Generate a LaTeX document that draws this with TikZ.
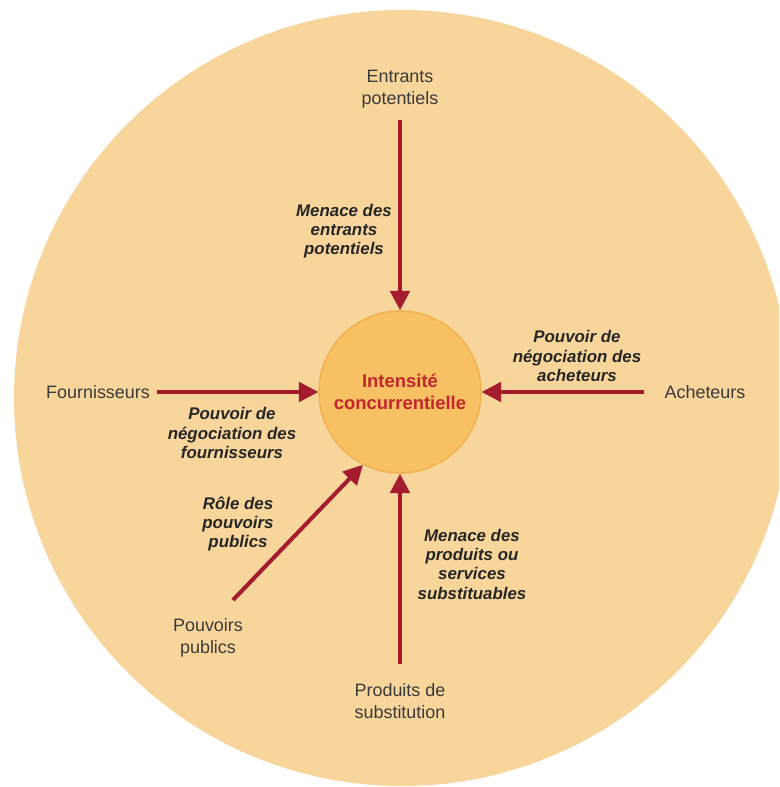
\documentclass[tikz,border=0pt]{standalone}
\usepackage{fontspec}
\setmainfont{Liberation Sans}
\usepackage{tikz}
\usetikzlibrary{arrows.meta}
\definecolor{peach}{HTML}{F7D59B}
\definecolor{sun}{HTML}{F7C062}
\definecolor{sunedge}{HTML}{F2B04C}
\definecolor{force}{HTML}{A51C2E}
\definecolor{redtxt}{HTML}{C3262E}
\definecolor{txt}{HTML}{3A3A3A}

\begin{document}
\begin{tikzpicture}[x=0.02cm,y=-0.02cm,
  actor/.style={font=\fontsize{10.2}{12.6}\selectfont,text=txt,align=center,inner sep=0pt},
  threat/.style={font=\fontsize{9.6}{11}\selectfont\bfseries\itshape,text=black!85,align=center},
  pressure/.style={draw=force,line width=2.3pt,-{Triangle[width=11pt,length=11pt]}}]

\useasboundingbox (0,0) rectangle (779,787);\clip (0,0) rectangle (779,787);
\fill[white] (0,0) rectangle (779,787);
\fill[peach] (402,398) circle (388);
%%%%%%%%%%%%%
\node[circle,fill=sun,draw=sunedge,line width=0.8pt,minimum size=3.24cm,text=redtxt,align=center,
  font=\fontsize{10.5}{12.5}\selectfont\bfseries] (intensite) at (400,392) {Intensit\'e\\concurrentielle};
%%%%%%%%%%%%%%%%%%%%%%%%%%%%
\node[actor] (entrants) at (400,89) {Entrants\\potentiels};
\node[actor] (fournisseurs) at (98,392) {Fournisseurs};
\node[actor] (acheteurs) at (705,392) {Acheteurs};
\node[actor] (produits) at (400,701) {Produits de\\substitution};
\node[actor] (publics) at (208,638) {Pouvoirs\\publics};\coordinate (publics-tail) at (233,600);
%%%%%%%%%%%%%%%%%%%%%%%%%%%%
\node[threat] at (344,231) {Menace des\\entrants\\potentiels};
\node[threat] at (232,433) {Pouvoir de\\n\'egociation des\\fournisseurs};
\node[threat] at (577,356) {Pouvoir de\\n\'egociation des\\acheteurs};
\node[threat] at (238,524) {R\^ole des\\pouvoirs\\publics};
\node[threat] at (472,564) {Menace des\\produits ou\\services\\substituables};
%%%%%%%%%%%%%%%%%%%%%%%%%%%%%%%%% arrows
\draw[pressure,shorten <=0.24cm] (entrants) to (intensite);
\draw[pressure,shorten <=0.14cm] (fournisseurs) to (intensite);
\draw[pressure,shorten <=0.4cm] (acheteurs) to (intensite);
\draw[pressure,shorten <=0.38cm] (produits) to (intensite);
\draw[pressure] (publics-tail) to (intensite.243);

\end{tikzpicture}
\end{document}
